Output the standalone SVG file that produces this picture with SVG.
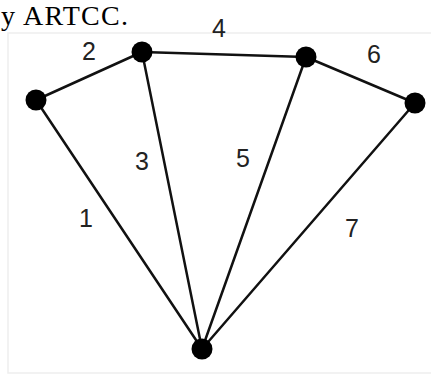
<svg xmlns="http://www.w3.org/2000/svg" width="431" height="376" viewBox="0 0 431 376">
<style>
.e{stroke:#111;stroke-width:2.5;fill:none;stroke-linecap:round}
.n{fill:#000}
.l{font-family:"Liberation Sans",Arial,sans-serif;font-size:25px;fill:#222;text-anchor:middle}
</style>
<rect width="431" height="376" fill="#fff"/>
<rect x="8" y="33" width="440" height="340" fill="none" stroke="#eee" stroke-width="1.5"/>
<text x="1" y="25" font-family="Liberation Serif,Times New Roman,serif" font-size="28" textLength="127" fill="#000">y ARTCC.</text>
<g id="connectors">
<line class="e" x1="36" y1="100" x2="142" y2="52"/>
<line class="e" x1="142" y1="52" x2="306" y2="57"/>
<line class="e" x1="306" y1="57" x2="415" y2="103"/>
<line class="e" x1="36" y1="100" x2="202" y2="349"/>
<line class="e" x1="142" y1="52" x2="202" y2="349"/>
<line class="e" x1="306" y1="57" x2="202" y2="349"/>
<line class="e" x1="415" y1="103" x2="202" y2="349"/>
</g>
<g id="labels">
<text class="l" x="89" y="60">2</text>
<text class="l" x="219" y="37">4</text>
<text class="l" x="374" y="63">6</text>
<text class="l" x="142" y="170">3</text>
<text class="l" x="243" y="167">5</text>
<text class="l" x="86" y="227">1</text>
<text class="l" x="352" y="237">7</text>
</g>
<g id="nodeA"><circle class="n" cx="36" cy="100" r="10.5"/></g>
<g id="nodeB"><circle class="n" cx="142" cy="52" r="10.5"/></g>
<g id="nodeC"><circle class="n" cx="306" cy="57" r="10.5"/></g>
<g id="nodeD"><circle class="n" cx="415" cy="103" r="10.5"/></g>
<g id="nodeE"><circle class="n" cx="202" cy="349" r="10.5"/></g>
</svg>
